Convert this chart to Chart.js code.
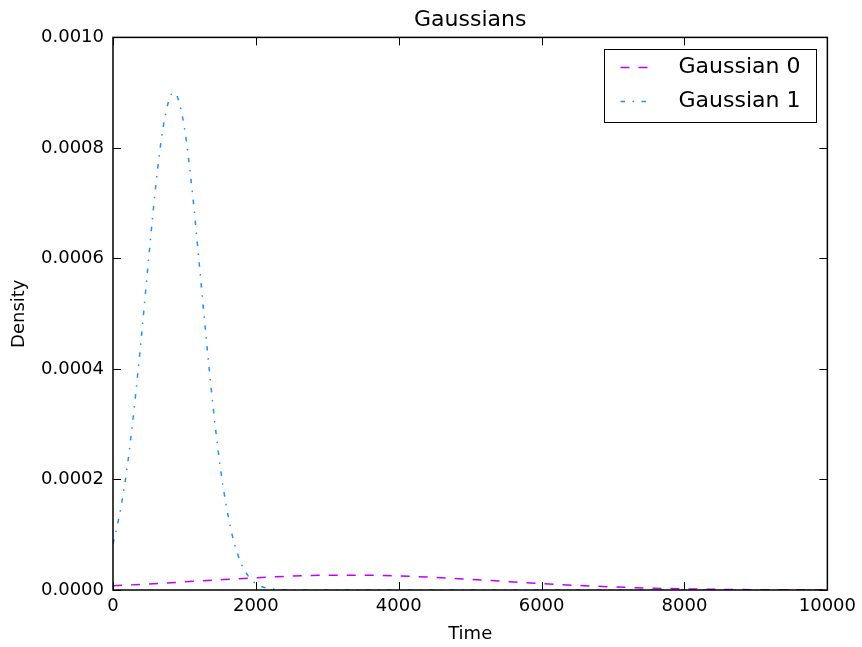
<!DOCTYPE html>
<html>
<head>
<meta charset="utf-8">
<title>Gaussians</title>
<script src="https://cdn.jsdelivr.net/npm/chart.js@4/dist/chart.umd.min.js"></script>
<style>
  html, body { margin: 0; padding: 0; background: #fff; }
  #wrap { width: 862px; height: 647px; }
</style>
</head>
<body>
<div id="wrap"><canvas id="gaussChart" width="862" height="647"></canvas></div>
<script>
// Series names and colours
const seriesNames = ['Gaussian 0', 'Gaussian 1'];
const seriesColors = ['#bf00ff', '#1e90ff'];

// Gaussian 0: broad, low bump
const g0Times = [0, 500, 1000, 1500, 2000, 2500, 3000, 3500, 4000, 4500, 5000,
                 5500, 6000, 6500, 7000, 7500, 8000, 8500, 9000, 9500, 10000];
const g0Values = [0.0000077, 0.0000109, 0.0000147, 0.0000186, 0.0000222, 0.0000251,
                  0.0000267, 0.0000269, 0.0000255, 0.0000229, 0.0000193, 0.0000154,
                  0.0000116, 0.0000083, 0.0000056, 0.0000035, 0.0000021, 0.0000012,
                  0.0000006, 0.0000003, 0.0000002];

// Gaussian 1: narrow, tall peak near 850
const g1Times = [0, 100, 200, 300, 400, 500, 600, 700, 800, 850, 900, 1000, 1100, 1200,
                 1300, 1400, 1500, 1600, 1700, 1800, 1900, 2000, 2100, 2200, 2300, 2400,
                 2500, 3000, 4000, 5000, 6000, 7000, 8000, 9000, 10000];
const g1Values = [0.0000837, 0.000142, 0.000224, 0.000333, 0.000462, 0.000601, 0.000733,
                  0.000836, 0.000893, 0.0009, 0.000893, 0.000836, 0.000733, 0.000601,
                  0.000462, 0.000333, 0.000224, 0.000142, 0.0000837, 0.0000463, 0.000024,
                  0.0000116, 0.0000053, 0.0000023, 0.0000009, 0.0000003,
                  0, 0, 0, 0, 0, 0, 0, 0, 0];

// Axis ticks
const xTicks = [0, 2000, 4000, 6000, 8000, 10000];
const yTicks = [0, 0.0002, 0.0004, 0.0006, 0.0008, 0.001];

const dashPatterns = [[9, 9], [4.5, 7.5, 1.5, 7.5]];

Chart.defaults.font.family = "'DejaVu Sans', sans-serif";
Chart.defaults.color = '#000';

function toPoints(xs, ys) {
    return xs.map((x, i) => ({ x: x, y: ys[i] }));
}

// Inward ticks on every side, the black frame and the boxed legend
const frameAndLegend = {
    id: 'frameAndLegend',
    afterDatasetsDraw(chart) {
        const { ctx, chartArea: a, scales } = chart;
        const tickLen = 8;
        ctx.save();
        ctx.strokeStyle = '#000';
        ctx.lineWidth = 1;
        xTicks.forEach(v => {
            const px = Math.round(scales.x.getPixelForValue(v)) + 0.5;
            ctx.beginPath();
            ctx.moveTo(px, a.bottom); ctx.lineTo(px, a.bottom - tickLen);
            ctx.moveTo(px, a.top); ctx.lineTo(px, a.top + tickLen);
            ctx.stroke();
        });
        yTicks.forEach(v => {
            const py = Math.round(scales.y.getPixelForValue(v)) + 0.5;
            ctx.beginPath();
            ctx.moveTo(a.left, py); ctx.lineTo(a.left + tickLen, py);
            ctx.moveTo(a.right, py); ctx.lineTo(a.right - tickLen, py);
            ctx.stroke();
        });
        ctx.lineWidth = 1.5;
        ctx.strokeRect(a.left, a.top, a.right - a.left, a.bottom - a.top);

        // legend
        const boxW = 212, boxH = 73;
        const bx = Math.round(a.right - 11 - boxW) + 0.5;
        const by = Math.round(a.top + 12) + 0.5;
        ctx.fillStyle = '#fff';
        ctx.fillRect(bx, by, boxW, boxH);
        ctx.lineWidth = 1;
        ctx.strokeRect(bx, by, boxW, boxH);
        ctx.font = "22px 'DejaVu Sans', sans-serif";
        ctx.textBaseline = 'middle';
        ctx.textAlign = 'left';
        seriesNames.forEach((name, i) => {
            const ry = by + 18 + i * 34;
            ctx.strokeStyle = seriesColors[i];
            ctx.lineWidth = 1.5;
            ctx.setLineDash(dashPatterns[i]);
            ctx.beginPath();
            ctx.moveTo(bx + 16, ry); ctx.lineTo(bx + 46, ry);
            ctx.stroke();
            ctx.setLineDash([]);
            ctx.fillStyle = '#000';
            ctx.fillText(name, bx + 74, ry);
        });
        ctx.restore();
    }
};

const ctx = document.getElementById('gaussChart');
new Chart(ctx, {
    type: 'line',
    data: {
        datasets: [
            {
                label: seriesNames[0],
                data: toPoints(g0Times, g0Values),
                borderColor: seriesColors[0],
                borderWidth: 1.5,
                borderDash: dashPatterns[0],
                pointRadius: 0,
                cubicInterpolationMode: 'monotone',
                fill: false
            },
            {
                label: seriesNames[1],
                data: toPoints(g1Times, g1Values),
                borderColor: seriesColors[1],
                borderWidth: 1.5,
                borderDash: dashPatterns[1],
                pointRadius: 0,
                cubicInterpolationMode: 'monotone',
                fill: false
            }
        ]
    },
    options: {
        responsive: false,
        animation: false,
        layout: { padding: { left: 0, right: 33, top: 0, bottom: 0 } },
        plugins: {
            legend: { display: false },
            tooltip: { enabled: false },
            title: {
                display: true,
                fullSize: false,
                text: 'Gaussians',
                color: '#000',
                font: { size: 22, weight: 'normal' },
                padding: { top: 7, bottom: 4 }
            }
        },
        scales: {
            x: {
                type: 'linear',
                min: 0,
                max: 10000,
                afterBuildTicks: scale => { scale.ticks = xTicks.map(v => ({ value: v })); },
                afterFit: scale => { scale.height = 57; },
                grid: { display: false, drawTicks: false },
                border: { display: false },
                ticks: {
                    callback: v => String(v),
                    font: { size: 18 },
                    padding: 6,
                    maxRotation: 0,
                    autoSkip: false
                },
                title: {
                    display: true,
                    text: 'Time',
                    font: { size: 18 },
                    padding: { top: 0, bottom: 2 }
                }
            },
            y: {
                type: 'linear',
                min: 0,
                max: 0.001,
                afterBuildTicks: scale => { scale.ticks = yTicks.map(v => ({ value: v })); },
                afterFit: scale => { scale.width = 113; },
                grid: { display: false, drawTicks: false },
                border: { display: false },
                ticks: {
                    callback: v => v.toFixed(4),
                    font: { size: 18 },
                    padding: 9
                },
                title: {
                    display: true,
                    text: 'Density',
                    font: { size: 18 },
                    padding: { top: 9, bottom: 0 }
                }
            }
        }
    },
    plugins: [frameAndLegend]
});
</script>
</body>
</html>
